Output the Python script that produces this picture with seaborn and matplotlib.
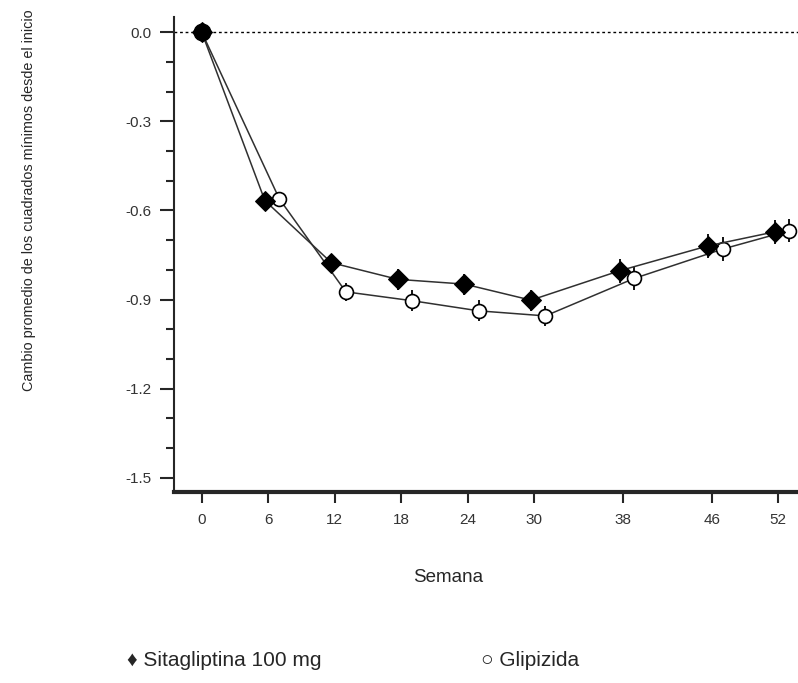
import numpy as np
import pandas as pd
import matplotlib
matplotlib.use("Agg")
import matplotlib.pyplot as plt
import seaborn as sns
from matplotlib.ticker import MultipleLocator

# semanas del estudio y cambio medio (LS) desde el inicio
semanas = [0, 6, 12, 18, 24, 30, 38, 46, 52]
sitagliptina = [0.0, -0.567, -0.776, -0.832, -0.848, -0.902, -0.803, -0.719, -0.672]
glipizida = [0.0, -0.561, -0.874, -0.904, -0.938, -0.955, -0.829, -0.730, -0.668]
err_sita = [0.0, 0.015, 0.025, 0.035, 0.035, 0.035, 0.04, 0.04, 0.04]
err_glip = [0.0, 0.015, 0.03, 0.035, 0.035, 0.035, 0.04, 0.04, 0.04]

y_ticks = [0.0, -0.3, -0.6, -0.9, -1.2, -1.5]
etiqueta_y = "Cambio promedio de los cuadrados mínimos desde el inicio"
etiqueta_x = "Semana"
leyenda_sita = "♦ Sitagliptina 100 mg"
leyenda_glip = "○ Glipizida"

sns.set_style("ticks")
fuentes = ["Liberation Sans", "DejaVu Sans"]
plt.rcParams["font.family"] = fuentes

# pequeño desplazamiento horizontal para que no se tapen los grupos
desp_s = np.where(np.array(semanas) == 0, 0.0, -0.3)
desp_g = np.where(np.array(semanas) == 0, 0.0, 1.0)
df_s = pd.DataFrame({"semana": np.array(semanas) + desp_s, "cambio": sitagliptina, "err": err_sita})
df_g = pd.DataFrame({"semana": np.array(semanas) + desp_g, "cambio": glipizida, "err": err_glip})

fig = plt.figure(figsize=(7.98, 6.83), dpi=100)
ax = fig.add_axes([0.218, 0.279, 0.785, 0.696])

ax.axhline(0, color="black", lw=1.0, ls=(0, (2, 2)), zorder=1)

for d in (df_s, df_g):
    ax.vlines(d["semana"], d["cambio"] - d["err"], d["cambio"] + d["err"],
              color="black", lw=1.3, zorder=2)

sns.lineplot(data=df_g, x="semana", y="cambio", ax=ax, color="#303030", lw=1.1,
             marker="o", markersize=10, markerfacecolor="white", markeredgecolor="black",
             markeredgewidth=1.2, zorder=3)
sns.lineplot(data=df_s, x="semana", y="cambio", ax=ax, color="#303030", lw=1.1,
             marker="D", markersize=10, markerfacecolor="black", markeredgecolor="black",
             zorder=4)
# al inicio ambos grupos coinciden en un punto negro
ax.plot(df_g["semana"].iloc[0], df_g["cambio"].iloc[0], "o", ms=12, color="black", zorder=5)

ax.set_xlim(-2.5, 54.0)
ax.set_ylim(-1.549, 0.0505)
ax.set_xticks(semanas)
ax.set_xticklabels([str(s) for s in semanas])
ax.set_yticks(y_ticks)
ax.set_yticklabels([f"{v:.1f}" for v in y_ticks])
ax.yaxis.set_minor_locator(MultipleLocator(0.1))

sns.despine(ax=ax)
ax.spines["left"].set_linewidth(1.5)
ax.spines["bottom"].set_linewidth(3.0)
ax.tick_params(axis="y", which="major", length=10, width=1.5, labelsize=11,
               labelcolor="#333333", pad=6)
ax.tick_params(axis="y", which="minor", length=6, width=1.5)
ax.tick_params(axis="x", which="major", length=8, width=1.5, labelsize=11,
               labelcolor="#333333", pad=7)

ax.set_xlabel("")
ax.set_ylabel("")
fig.text(0.036, 0.707, etiqueta_y, rotation=90, ha="center", va="center", fontsize=10.4)
fig.text(0.561, 0.155, etiqueta_x, ha="center", va="center", fontsize=13.5)
fig.text(0.159, 0.033, leyenda_sita, ha="left", va="center", fontsize=15)
fig.text(0.603, 0.033, leyenda_glip, ha="left", va="center", fontsize=15)

fig.savefig("out.png", dpi=100)
